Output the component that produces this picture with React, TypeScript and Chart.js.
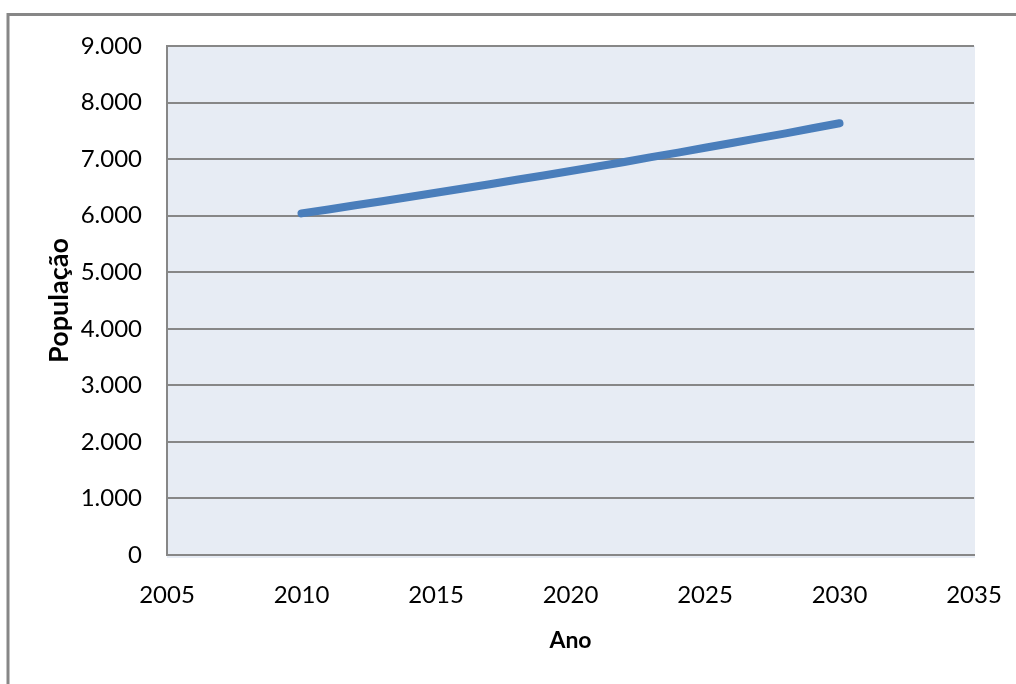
import React, { useEffect, useRef } from 'react';
import { Chart, registerables } from 'chart.js';

Chart.register(...registerables);

// Projected population by year
const years = [
  2010, 2011, 2012, 2013, 2014, 2015, 2016, 2017, 2018, 2019, 2020,
  2021, 2022, 2023, 2024, 2025, 2026, 2027, 2028, 2029, 2030,
];
const population = [
  6040, 6110, 6185, 6255, 6330, 6405, 6480, 6555, 6635, 6710, 6790,
  6870, 6950, 7035, 7115, 7200, 7285, 7370, 7455, 7545, 7635,
];

// Axis tick labels
const xTickLabels = ['2005', '2010', '2015', '2020', '2025', '2030', '2035'];
const yTickLabels = ['0', '1.000', '2.000', '3.000', '4.000', '5.000', '6.000', '7.000', '8.000', '9.000'];

const FONT = 'Lato, "Noto Sans", sans-serif';
const GRID = '#878787';

// Plot-area fill and the outer frame lines
const framePlugin = {
  id: 'frame',
  beforeDraw(chart: any) {
    const { ctx, chartArea: a } = chart;
    ctx.save();
    ctx.fillStyle = '#E7ECF4';
    ctx.fillRect(a.left, a.top, a.right - a.left + 1, a.bottom - a.top + 3);
    ctx.strokeStyle = GRID;
    ctx.lineWidth = 3;
    ctx.beginPath();
    ctx.moveTo(8, chart.height);
    ctx.lineTo(8, 14.5);
    ctx.lineTo(chart.width, 14.5);
    ctx.stroke();
    ctx.restore();
  },
};

export default function App() {
  const canvasRef = useRef<HTMLCanvasElement | null>(null);

  useEffect(() => {
    document.body.style.margin = '0';
    const canvas = canvasRef.current;
    if (!canvas) return;
    const chart = new Chart(canvas, {
      type: 'line',
      data: {
        datasets: [
          {
            label: 'População',
            data: years.map((y, i) => ({ x: y, y: population[i] })),
            borderColor: '#4A7EBB',
            borderWidth: 8,
            borderCapStyle: 'round',
            borderJoinStyle: 'round',
            pointRadius: 0,
            tension: 0,
            fill: false,
          },
        ],
      },
      options: {
        animation: false,
        responsive: false,
        devicePixelRatio: 1,
        layout: { padding: { left: 8, top: 46, right: 42, bottom: 0 } },
        plugins: {
          legend: { display: false },
          tooltip: { enabled: false },
        },
        scales: {
          x: {
            type: 'linear',
            min: 2005,
            max: 2035,
            ticks: {
              stepSize: 5,
              autoSkip: false,
              maxRotation: 0,
              color: '#000',
              padding: 26,
              font: { family: FONT, size: 24 },
              callback: (v: any) => xTickLabels[Math.round((Number(v) - 2005) / 5)],
            },
            grid: { drawOnChartArea: false, drawTicks: false },
            border: { display: true, color: GRID, width: 2 },
            title: {
              display: true,
              text: 'Ano',
              color: '#000',
              font: { family: FONT, size: 23, weight: 'bold' },
              padding: { top: 0, bottom: 30 },
            },
            afterFit: (s: any) => {
              s.height = 129;
              s.paddingLeft = 0;
              s.paddingRight = 0;
            },
          },
          y: {
            type: 'linear',
            min: 0,
            max: 9000,
            ticks: {
              stepSize: 1000,
              color: '#000',
              padding: 25,
              font: { family: FONT, size: 24 },
              callback: (v: any) => yTickLabels[Math.round(Number(v) / 1000)],
            },
            grid: { color: GRID, lineWidth: 2, drawTicks: false },
            border: { display: true, color: GRID, width: 2 },
            title: {
              display: true,
              text: 'População',
              color: '#000',
              font: { family: FONT, size: 27, weight: 'bold' },
              padding: { top: 35, bottom: 0 },
            },
            afterFit: (s: any) => {
              s.width = 159;
              s.paddingTop = 0;
              s.paddingBottom = 0;
            },
          },
        },
      },
      plugins: [framePlugin],
    });
    return () => chart.destroy();
  }, []);

  return <canvas ref={canvasRef} width={1016} height={684} style={{ display: 'block' }} />;
}
